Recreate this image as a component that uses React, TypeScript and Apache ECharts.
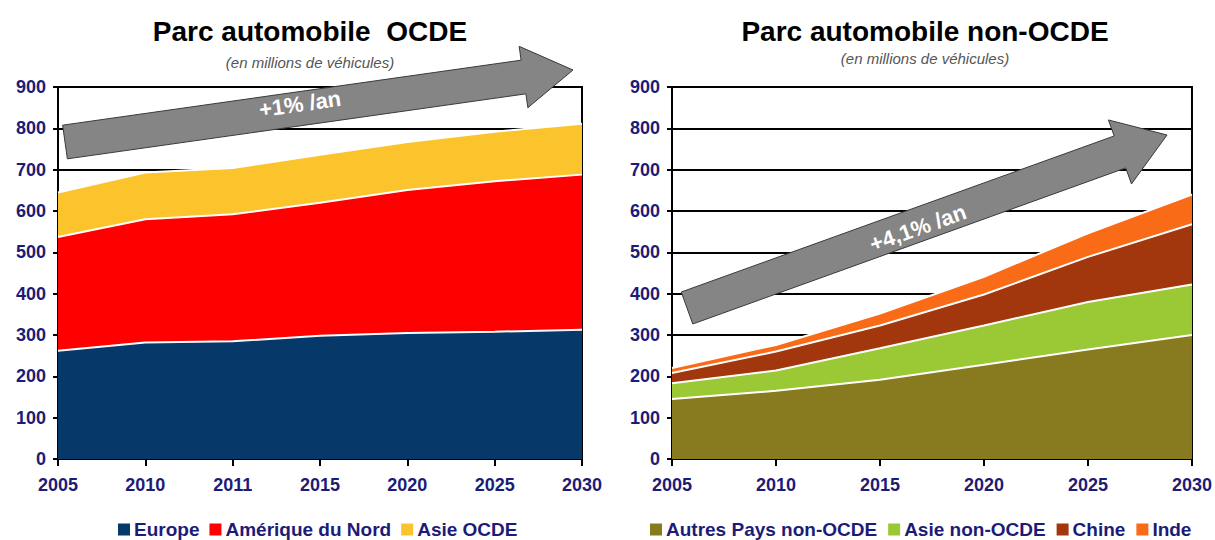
import React, { useEffect, useRef } from "react";
import * as echarts from "echarts";

// ---- Data ----
const yearsOCDE = ["2005", "2010", "2011", "2015", "2020", "2025", "2030"];
const europe = [262, 282, 285, 298, 305, 308, 313];
const ameriqueNord = [275, 298, 307, 322, 346, 364, 375];
const asieOCDE = [108, 113, 112, 116, 116, 120, 123];

const yearsNonOCDE = ["2005", "2010", "2015", "2020", "2025", "2030"];
const autresPays = [145, 165, 192, 228, 265, 300];
const asieNonOCDE = [38, 49, 76, 95, 115, 122];
const chine = [25, 46, 55, 75, 109, 146];
const inde = [12, 16, 29, 43, 57, 72];

const legendOCDE = ["Europe", "Amérique du Nord", "Asie OCDE"];
const legendNonOCDE = ["Autres Pays non-OCDE", "Asie non-OCDE", "Chine", "Inde"];

const yTicks = { min: 0, max: 900, interval: 100 };

const NAVY = "#1c1c78";
const FONT = "'Liberation Sans', Arial, sans-serif";

function arrowPoints(
  x0: number, y0: number, x1: number, y1: number,
  bodyHalf: number, headHalf: number, headLen: number
): number[][] {
  const dx = x1 - x0, dy = y1 - y0;
  const len = Math.sqrt(dx * dx + dy * dy);
  const ux = dx / len, uy = dy / len;
  const nx = -uy, ny = ux;
  const bx = x1 - ux * headLen, by = y1 - uy * headLen;
  return [
    [x0 + nx * bodyHalf, y0 + ny * bodyHalf],
    [bx + nx * bodyHalf, by + ny * bodyHalf],
    [bx + nx * headHalf, by + ny * headHalf],
    [x1, y1],
    [bx - nx * headHalf, by - ny * headHalf],
    [bx - nx * bodyHalf, by - ny * bodyHalf],
    [x0 - nx * bodyHalf, y0 - ny * bodyHalf],
  ];
}

function areaSeries(name: string, data: number[], color: string, stack: string, idx: number) {
  return {
    name,
    type: "line",
    stack,
    data,
    xAxisIndex: idx,
    yAxisIndex: idx,
    showSymbol: false,
    symbol: "none",
    lineStyle: { color: "#ffffff", width: 2 },
    itemStyle: { color },
    areaStyle: { color, opacity: 1 },
  };
}

function App() {
  const ref = useRef<HTMLDivElement>(null);
  useEffect(() => {
    document.body.style.margin = "0";
    if (!ref.current) return;
    const chart = echarts.init(ref.current, undefined, { renderer: "svg" });

    const axisLabel = { color: NAVY, fontWeight: "bold" as const, fontSize: 18, fontFamily: FONT };
    const mkX = (data: string[], gridIndex: number) => ({
      type: "category",
      gridIndex,
      data,
      boundaryGap: false,
      axisLine: { lineStyle: { color: "#000", width: 2 } },
      axisTick: { show: true, length: 7, lineStyle: { color: "#000", width: 2 } },
      axisLabel: { ...axisLabel, margin: 17 },
      splitLine: { show: false },
    });
    const mkY = (gridIndex: number) => ({
      type: "value",
      gridIndex,
      ...yTicks,
      axisLine: { show: true, lineStyle: { color: "#000", width: 2 } },
      axisTick: { show: true, length: 5, lineStyle: { color: "#000", width: 2 } },
      axisLabel: { ...axisLabel, margin: 12 },
      splitLine: { show: true, lineStyle: { color: "#000", width: 2 } },
    });

    const leftArrow = arrowPoints(65, 142, 573, 70, 17, 31, 50);
    const rightArrow = arrowPoints(687, 308, 1167, 135, 17, 34, 50);

    const legendText = { color: NAVY, fontWeight: "bold" as const, fontSize: 19, fontFamily: FONT };

    chart.setOption({
      animation: false,
      backgroundColor: "#ffffff",
      title: [
        {
          text: "Parc automobile  OCDE",
          subtext: "(en millions de véhicules)",
          left: 305,
          textAlign: "center",
          top: 12,
          itemGap: 10,
          textStyle: { fontFamily: FONT, fontWeight: "bold", fontSize: 28, color: "#000" },
          subtextStyle: { fontFamily: FONT, fontStyle: "italic", fontSize: 15, color: "#555" },
        },
        {
          text: "Parc automobile non-OCDE",
          subtext: "(en millions de véhicules)",
          left: 920,
          textAlign: "center",
          top: 12,
          itemGap: 6,
          textStyle: { fontFamily: FONT, fontWeight: "bold", fontSize: 28, color: "#000" },
          subtextStyle: { fontFamily: FONT, fontStyle: "italic", fontSize: 15, color: "#555" },
        },
      ],
      legend: [
        {
          data: legendOCDE,
          left: 118,
          top: 520,
          padding: 0,
          itemWidth: 12,
          itemHeight: 12,
          itemGap: 10,
          icon: "rect",
          textStyle: { ...legendText, padding: [0, 0, 0, -1] },
        },
        {
          data: legendNonOCDE,
          left: 650,
          top: 520,
          padding: 0,
          itemWidth: 12,
          itemHeight: 12,
          itemGap: 11,
          icon: "rect",
          textStyle: { ...legendText, padding: [0, 0, 0, -1] },
        },
      ],
      grid: [
        { left: 58, right: 1215 - 582, top: 87, bottom: 81, show: true, borderColor: "#000", borderWidth: 2 },
        { left: 672, right: 20, top: 87, bottom: 81, show: true, borderColor: "#000", borderWidth: 2 },
      ],
      xAxis: [mkX(yearsOCDE, 0), mkX(yearsNonOCDE, 1)],
      yAxis: [mkY(0), mkY(1)],
      series: [
        areaSeries("Europe", europe, "#06386a", "ocde", 0),
        areaSeries("Amérique du Nord", ameriqueNord, "#ff0000", "ocde", 0),
        areaSeries("Asie OCDE", asieOCDE, "#fcc42c", "ocde", 0),
        areaSeries("Autres Pays non-OCDE", autresPays, "#877a1f", "non", 1),
        areaSeries("Asie non-OCDE", asieNonOCDE, "#9bc935", "non", 1),
        areaSeries("Chine", chine, "#a2360c", "non", 1),
        areaSeries("Inde", inde, "#fa6b18", "non", 1),
      ],
      graphic: [
        {
          type: "polygon",
          z: 100,
          shape: { points: leftArrow },
          style: { fill: "#858585", stroke: "#3a3a3a", lineWidth: 1 },
        },
        {
          type: "text",
          z: 101,
          x: 300,
          y: 104,
          rotation: 0.14,
          style: {
            text: "+1% /an",
            fill: "#ffffff",
            font: `bold 22px ${FONT}`,
            align: "center",
            verticalAlign: "middle",
          },
        },
        {
          type: "polygon",
          z: 100,
          shape: { points: rightArrow },
          style: { fill: "#858585", stroke: "#3a3a3a", lineWidth: 1 },
        },
        {
          type: "text",
          z: 101,
          x: 918,
          y: 228,
          rotation: 0.345,
          style: {
            text: "+4,1% /an",
            fill: "#ffffff",
            font: `bold 22px ${FONT}`,
            align: "center",
            verticalAlign: "middle",
          },
        },
      ],
    });
    return () => chart.dispose();
  }, []);
  return <div ref={ref} style={{ width: 1215, height: 540 }} />;
}

export default App;
